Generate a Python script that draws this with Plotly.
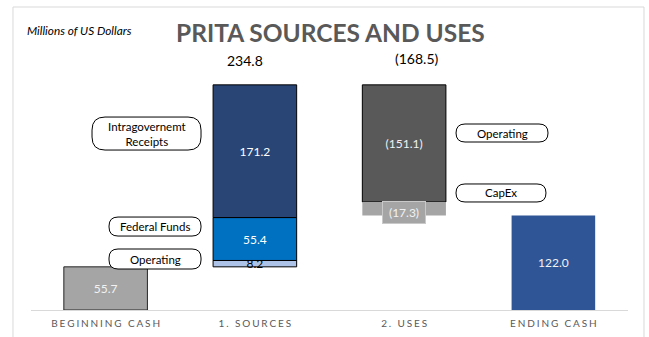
import plotly.graph_objects as go

# ---------------- data ----------------
categories = ["BEGINNING CASH", "1. SOURCES", "2. USES", "ENDING CASH"]
beginning_cash = 55.7
source_names = ["Operating", "Federal Funds", "Intragovernemt<br>Receipts"]
source_values = [8.2, 55.4, 171.2]
use_names = ["Operating", "CapEx"]
use_values = [151.1, 17.3]
ending_cash = 122.0
sources_total_label = "234.8"
uses_total_label = "(168.5)"

# ---------------- styles ----------------
FONT = "Lato"
source_colors = ["#ADC4E8", "#0070C0", "#284576"]
source_text_colors = ["#000000", "#FFFFFF", "#FFFFFF"]
use_colors = ["#595959", "#A5A5A5"]
BAR_W = 0.56

xpos = {c: i for i, c in enumerate(categories)}

fig = go.Figure()

def spaced(s):
    return "\u2009\u200a".join(list(s))

# Beginning cash
fig.add_trace(go.Bar(
    x=[xpos[categories[0]]], y=[beginning_cash], base=[0], width=BAR_W,
    marker=dict(color="#A5A5A5", line=dict(color="#262626", width=1)),
    text=[f"{beginning_cash:.1f}"], textposition="inside", insidetextanchor="middle",
    textfont=dict(color="#F2F2F2", size=12, family=FONT), constraintext="none",
    showlegend=False, hoverinfo="skip"))

# Sources stack
base = beginning_cash
for v, c, tc in zip(source_values, source_colors, source_text_colors):
    fig.add_trace(go.Bar(
        x=[xpos[categories[1]]], y=[v], base=[base], width=BAR_W,
        marker=dict(color=c, line=dict(color="#000000", width=1)),
        text=[f"{v:.1f}"], textposition="inside", insidetextanchor="middle",
        textfont=dict(color=tc, size=12, family=FONT), constraintext="none",
        cliponaxis=False, showlegend=False, hoverinfo="skip"))
    base += v
top = base

# Uses stack (going down)
ubase = top
use_bases = []
for i, (v, c) in enumerate(zip(use_values, use_colors)):
    ubase -= v
    use_bases.append(ubase)
    fig.add_trace(go.Bar(
        x=[xpos[categories[2]]], y=[v], base=[ubase], width=BAR_W,
        marker=dict(color=c, line=dict(color="#000000" if i == 0 else c, width=1 if i == 0 else 0)),
        text=[f"({v:.1f})"], textposition="inside" if i == 0 else "none",
        insidetextanchor="middle",
        textfont=dict(color="#F2F2F2", size=12, family=FONT), constraintext="none",
        showlegend=False, hoverinfo="skip"))

# Ending cash
fig.add_trace(go.Bar(
    x=[xpos[categories[3]]], y=[ending_cash], base=[0], width=BAR_W,
    marker=dict(color="#2F5597", line=dict(width=0)),
    text=[f"{ending_cash:.1f}"], textposition="inside", insidetextanchor="middle",
    textfont=dict(color="#F2F2F2", size=12, family=FONT), constraintext="none",
    showlegend=False, hoverinfo="skip"))

annotations = []
shapes = []

# CapEx label with grey box
annotations.append(dict(
    x=xpos[categories[2]], y=use_bases[1] + use_values[1] / 2, xref="x", yref="y",
    text=f"({use_values[1]:.1f})", showarrow=False, yshift=-4,
    font=dict(color="#F2F2F2", size=12, family=FONT),
    bgcolor="#A5A5A5", bordercolor="#C9C9C9", borderwidth=1, borderpad=3, width=36))

# Totals
annotations.append(dict(x=xpos[categories[1]], y=top, xref="x", yref="y",
                        text=sources_total_label, showarrow=False, yanchor="middle",
                        yshift=24, xshift=-10,
                        font=dict(color="#000000", size=14, family=FONT)))
annotations.append(dict(x=xpos[categories[2]], y=top, xref="x", yref="y",
                        text=uses_total_label, showarrow=False, yanchor="middle",
                        yshift=26, xshift=13,
                        font=dict(color="#000000", size=14, family=FONT)))

# Callouts: (x, y, width px, height px, radius px, text)
callouts = [
    (0.274, 227.7, 109, 33, 13, source_names[2]),
    (0.331, 107.7, 92, 19, 9, source_names[1]),
    (0.331, 65.8, 92, 20, 9, source_names[0]),
    (2.656, 228.4, 92, 18, 9, use_names[0]),
    (2.649, 151.0, 90, 18, 9, use_names[1]),
]

def rounded_path(w, h, r):
    a, b = w / 2, h / 2
    return (f"M {-a + r},{-b} L {a - r},{-b} Q {a},{-b} {a},{-b + r} "
            f"L {a},{b - r} Q {a},{b} {a - r},{b} L {-a + r},{b} "
            f"Q {-a},{b} {-a},{b - r} L {-a},{-b + r} Q {-a},{-b} {-a + r},{-b} Z")

for cx, cy, w, h, r, t in callouts:
    shapes.append(dict(type="path", xref="x", yref="y", xsizemode="pixel", ysizemode="pixel",
                       xanchor=cx, yanchor=cy, path=rounded_path(w, h, r),
                       line=dict(color="#000000", width=1), fillcolor="#FFFFFF", layer="above"))
    annotations.append(dict(x=cx, y=cy, xref="x", yref="y", text=t, showarrow=False,
                            font=dict(color="#000000", size=11.5, family=FONT)))

# Title & subtitle
annotations.append(dict(x=0.5025, y=1.0296, xref="paper", yref="paper",
                        xanchor="center", yanchor="middle",
                        text="<b>PRITA SOURCES AND USES</b>", showarrow=False,
                        font=dict(color="#595959", size=24.5, family=FONT)))
annotations.append(dict(x=-0.0100, y=1.0370, xref="paper", yref="paper",
                        xanchor="left", yanchor="middle",
                        text="<i>Millions of US Dollars</i>", showarrow=False,
                        font=dict(color="#000000", size=11.8, family=FONT)))

# Outer light border
shapes.append(dict(type="rect", xref="paper", yref="paper", x0=-0.0302, x1=1.0268,
                   y0=-0.12, y1=1.1222, line=dict(color="#D9D9D9", width=1),
                   fillcolor="rgba(0,0,0,0)", layer="below"))

fig.update_layout(
    width=649, height=337,
    margin=dict(l=31, r=21, t=40, b=27, autoexpand=False),
    paper_bgcolor="#FFFFFF", plot_bgcolor="#FFFFFF",
    barmode="overlay", showlegend=False,
    annotations=annotations, shapes=shapes,
    font=dict(family=FONT),
    xaxis=dict(range=[-0.5, 3.5], tickvals=list(range(len(categories))),
               ticktext=[spaced(c) for c in categories],
               showgrid=False, zeroline=False, showline=True, linecolor="#D9D9D9",
               linewidth=1, ticks="", ticklabelstandoff=4, automargin=False,
               tickfont=dict(color="#595959", size=10, family=FONT),
               fixedrange=True),
    yaxis=dict(range=[0, 348.4], visible=False, showgrid=False, zeroline=False,
               automargin=False, fixedrange=True),
)

fig.write_html("out.html")
